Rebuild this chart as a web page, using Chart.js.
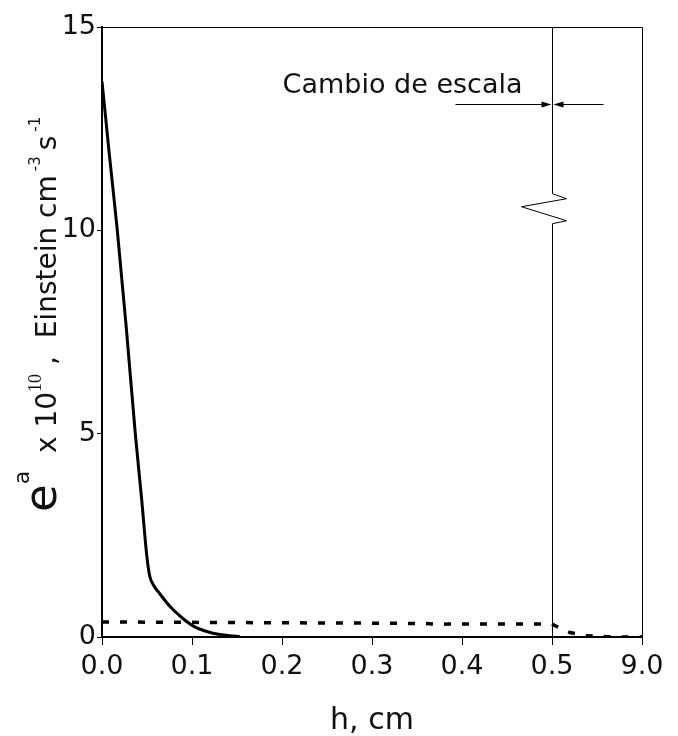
<!DOCTYPE html>
<html lang="es">
<head>
    <meta charset="UTF-8">
    <style>
        html, body { margin: 0; padding: 0; background: #fff; overflow: hidden; }
        .chartDiv { width: 678px; height: 736px; }
    </style>
    <title>Cambio de escala</title>
</head>
<body>
    <div class="chartDiv">
        <canvas id="myChart" width="678" height="736"></canvas>
    </div>
    <script src="https://cdn.jsdelivr.net/npm/chart.js"></script>
    <script>
        // tick labels (the last one is after the scale break)
        const xTickLabels = ['0.0', '0.1', '0.2', '0.3', '0.4', '0.5', '9.0'];
        const yTickStep = 5;
        const yMax = 15;

        // solid curve: h (cm) and e^a x 10^10
        const solidH = [0, 0.008, 0.017, 0.027, 0.037, 0.044, 0.050, 0.053, 0.058, 0.064, 0.0756, 0.085, 0.094, 0.103, 0.113, 0.122, 0.131, 0.142, 0.153];
        const solidE = [13.66, 11.9, 10.0, 7.6, 5.0, 3.4, 1.95, 1.5, 1.25, 1.07, 0.75, 0.55, 0.38, 0.25, 0.16, 0.10, 0.06, 0.03, 0.01];

        // dashed curve, goes on past the break up to 9 cm
        const dashH = [0, 0.1, 0.2, 0.3, 0.36, 0.372, 0.385, 0.45, 0.5, 1.2, 2.2, 3.7, 5.5, 7.5, 9.0];
        const dashE = [0.37, 0.36, 0.35, 0.34, 0.33, 0.31, 0.32, 0.32, 0.32, 0.22, 0.11, 0.03, 0.01, 0.0, 0.0];

        const breakAt = 0.5;
        const lastH = 9.0;

        // real h -> position on the broken axis
        function toAxis(h) {
            return h <= breakAt ? h : breakAt + (h - breakAt) / (lastH - breakAt) * 0.1;
        }

        const ink = '#111';
        const font = 'DejaVu Sans';

        // pieces of the y title, gap = extra px before the piece
        const yTitleParts = [
            { t: 'e', size: 45, rise: 0, gap: 0 },
            { t: 'a', size: 22, rise: 27, gap: 0 },
            { t: '  x 10', size: 28, rise: 0, gap: 0 },
            { t: '10', size: 18, rise: 15, gap: 0, serif: true },
            { t: ' ,  Einstein cm', size: 28, rise: 0, gap: 0 },
            { t: '-3', size: 15, rise: 16, gap: 4 },
            { t: 's', size: 28, rise: 0, gap: 6 },
            { t: '-1', size: 15, rise: 16, gap: 4 }
        ];

        const extras = {
            id: 'extras',
            afterDraw(chart) {
                const { ctx, chartArea: a, scales: { x, y } } = chart;
                ctx.save();
                ctx.strokeStyle = '#000';
                ctx.lineWidth = 1;

                // top and right frame
                ctx.beginPath();
                ctx.moveTo(a.left, a.top + 0.5);
                ctx.lineTo(a.right + 0.5, a.top + 0.5);
                ctx.lineTo(a.right + 0.5, a.bottom);
                ctx.stroke();

                // break line with zigzag
                const bx = Math.round(x.getPixelForValue(breakAt)) + 0.5;
                const zy = y.getPixelForValue(10.9);
                ctx.beginPath();
                ctx.moveTo(bx, a.top);
                ctx.lineTo(bx, zy);
                ctx.lineTo(bx + 14, zy + 5);
                ctx.lineTo(bx - 31, zy + 13);
                ctx.lineTo(bx + 14, zy + 27);
                ctx.lineTo(bx, zy + 30);
                ctx.lineTo(bx, a.bottom);
                ctx.stroke();

                // arrows
                const ay = Math.round(y.getPixelForValue(13.1)) + 0.5;
                ctx.fillStyle = '#000';
                ctx.beginPath();
                ctx.moveTo(bx - 97, ay);
                ctx.lineTo(bx - 8, ay);
                ctx.moveTo(bx + 51, ay);
                ctx.lineTo(bx + 8, ay);
                ctx.stroke();
                ctx.beginPath();
                ctx.moveTo(bx - 1, ay);
                ctx.lineTo(bx - 11, ay - 3);
                ctx.lineTo(bx - 11, ay + 3);
                ctx.closePath();
                ctx.moveTo(bx + 1, ay);
                ctx.lineTo(bx + 11, ay - 3);
                ctx.lineTo(bx + 11, ay + 3);
                ctx.closePath();
                ctx.fill();

                ctx.fillStyle = ink;
                ctx.font = '27px ' + font;
                ctx.textAlign = 'right';
                ctx.textBaseline = 'alphabetic';
                ctx.fillText('Cambio de escala', bx - 30, ay - 12);

                // rotated y title with superscripts
                ctx.translate(56, 512);
                ctx.rotate(-Math.PI / 2);
                ctx.textAlign = 'left';
                let pos = 0;
                yTitleParts.forEach(p => {
                    ctx.font = p.size + 'px ' + (p.serif ? 'Liberation Serif' : font);
                    pos += p.gap;
                    ctx.fillText(p.t, pos, -p.rise);
                    pos += ctx.measureText(p.t).width;
                });
                ctx.restore();
            }
        };

        const ctx = document.getElementById('myChart');

        new Chart(ctx, {
            type: 'line',
            data: {
                datasets: [
                    {
                        label: 'solid',
                        data: solidH.map((h, i) => ({ x: toAxis(h), y: solidE[i] })),
                        borderColor: '#000',
                        borderWidth: 3,
                        pointRadius: 0,
                        cubicInterpolationMode: 'monotone',
                        fill: false
                    },
                    {
                        label: 'dashed',
                        data: dashH.map((h, i) => ({ x: toAxis(h), y: dashE[i] })),
                        borderColor: '#000',
                        borderWidth: 3.5,
                        borderDash: [7, 11],
                        pointRadius: 0,
                        tension: 0,
                        fill: false
                    }
                ]
            },
            options: {
                responsive: false,
                animation: false,
                layout: { padding: { top: 27, right: 36, left: 0, bottom: 0 } },
                plugins: {
                    legend: { display: false },
                    tooltip: { enabled: false }
                },
                scales: {
                    x: {
                        type: 'linear',
                        min: 0,
                        max: 0.6,
                        afterBuildTicks: s => {
                            s.ticks = xTickLabels.map((_, i) => ({ value: i / 10 }));
                        },
                        afterFit: s => { s.height = 99; },
                        ticks: {
                            callback: (v, i) => xTickLabels[i],
                            autoSkip: false,
                            maxRotation: 0,
                            padding: 6,
                            color: ink,
                            font: { family: font, size: 27 }
                        },
                        grid: { drawOnChartArea: false, drawTicks: true, tickLength: 8, color: '#000', lineWidth: 1 },
                        border: { display: true, color: '#000', width: 2 },
                        title: {
                            display: true,
                            text: 'h, cm',
                            color: ink,
                            padding: 0,
                            font: { family: font, size: 30, lineHeight: 1 }
                        }
                    },
                    y: {
                        min: 0,
                        max: yMax,
                        afterFit: s => { s.width = 102; },
                        ticks: {
                            stepSize: yTickStep,
                            padding: 1,
                            color: ink,
                            font: { family: font, size: 27 }
                        },
                        grid: { drawOnChartArea: false, drawTicks: true, tickLength: 5, color: '#000', lineWidth: 1 },
                        border: { display: true, color: '#000', width: 2 }
                    }
                }
            },
            plugins: [extras]
        });
    </script>
</body>
</html>
